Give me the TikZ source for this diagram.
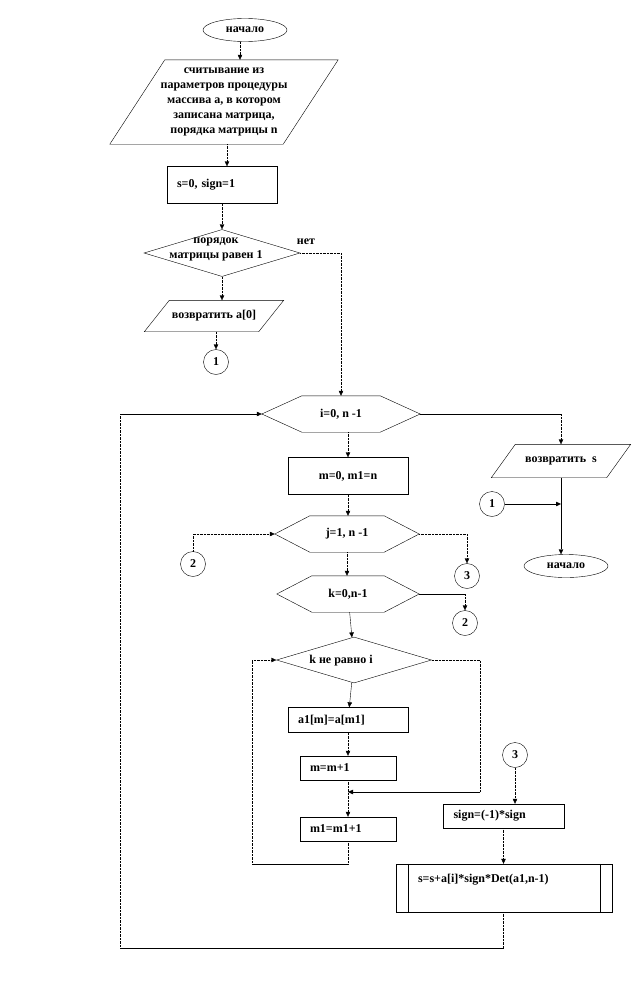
\documentclass[tikz,border=0pt]{standalone}
\usepackage{fontspec}
\setmainfont{Liberation Serif}
\usetikzlibrary{shapes.geometric, arrows.meta, positioning}

\begin{document}
\begin{tikzpicture}[
          x=1pt, y=-1pt,
          font=\bfseries\fontsize{12}{15}\selectfont,
          term/.style={ellipse, draw, minimum width=84pt, minimum height=23pt, inner sep=0pt},
          io/.style={rectangle, inner sep=0pt, align=center},
          proc/.style={rectangle, draw, inner xsep=10pt, inner ysep=0pt, align=left},
          cond/.style={diamond, draw, inner sep=0pt},
          hexbox/.style={rectangle, inner sep=0pt, minimum height=36pt},
          conn/.style={circle, draw, minimum size=25pt, inner sep=0pt},
          arrow/.style={-{Triangle[length=5pt, width=4.5pt]}},
          dline/.style={densely dotted}
        ]
          \useasboundingbox (0,0) rectangle (636,996);

          % main column
          \node (start) [term] at (245,30) {начало};
          \node (read) [io, minimum width=228pt, minimum height=84pt] at (224,102) {считывание из\\параметров процедуры\\массива a, в котором\\записана матрица,\\ порядка матрицы n};
          \node (init) [proc, inner xsep=10pt, minimum width=110pt, minimum height=37pt, text width=90pt] at (222,185) {s=0, sign=1};
          \node (check) [cond, minimum width=156pt, minimum height=47pt] at (222,253) {};
          \node (checktxt) [align=center, inner sep=0pt] at (216,249) {порядок\\матрицы равен 1};
          \node (no) at (306,242) {нет};
          \node (ret0) [io, minimum width=139pt, minimum height=31pt] at (214,316) {возвратить a[0]};
          \node (c1) [conn] at (216,362) {1};

          % loops
          \node (h1) [hexbox, minimum width=158pt] at (341,414) {i=0, n -1};
          \node (zero) [proc, align=center, minimum width=120pt, minimum height=37pt] at (348,476) {m=0, m1=n};
          \node (h2) [hexbox, minimum width=144pt] at (347,534) {j=1, n -1};
          \node (h3) [hexbox, minimum width=142pt] at (348,594) {k=0,n-1};
          \node (c2) [conn] at (193,564) {2};
          \node (c3) [conn] at (467,576) {3};
          \node (c2b) [conn] at (465,623) {2};
          \node (kneq) [cond, minimum width=155pt, minimum height=46pt] at (354,660) {};
          \node (kneqtxt) [inner sep=0pt] at (341,661) {k не равно i};
          \node (copy) [proc, minimum width=120pt, minimum height=25pt, text width=100pt] at (348,720) {a1[m]=a[m1]};
          \node (incm) [proc, minimum width=96pt, minimum height=24pt, text width=76pt] at (348,768) {m=m+1};
          \node (incm1) [proc, minimum width=96pt, minimum height=24pt, text width=76pt] at (348,829) {m1=m1+1};
          \node (c3b) [conn] at (515,755) {3};
          \node (flip) [proc, minimum width=121pt, minimum height=24pt, text width=100pt] at (503.5,816) {sign=(-1)*sign};
          \node (acc) [proc, inner xsep=22pt, minimum width=216pt, minimum height=48pt, text width=172pt, text height=9pt, text depth=21pt] at (504,888) {s=s+a[i]*sign*Det(a1,n-1)};

          % exit
          \node (ret) [io, minimum width=139pt, minimum height=33pt] at (561,461) {возвратить \ s};
          \node (c1b) [conn] at (492,504) {1};
          \node (stop) [term] at (566,566) {начало};

          % parallelograms, hexagons and subroutine bars
          \foreach \p/\o in {read/55, ret0/25, ret/24}
            \draw (\p.south west) -- ([xshift=\o]\p.north west) -- (\p.north east) -- ([xshift=-\o]\p.south east) -- cycle;
          \foreach \h/\c in {h1/40, h2/35, h3/35}
            \draw (\h.west) -- ([xshift=\c]\h.north west) -- ([xshift=-\c]\h.north east) -- (\h.east) -- ([xshift=-\c]\h.south east) -- ([xshift=\c]\h.south west) -- cycle;
          \draw ([xshift=12]acc.north west) -- ([xshift=12]acc.south west);
          \draw ([xshift=-12]acc.north east) -- ([xshift=-12]acc.south east);

          \coordinate (kr) at (480,792);
          \coordinate (kl) at (252,864);
          \coordinate (ob) at (120,948);

          \draw [arrow, dline] ([xshift=-5]start.south) -- ([xshift=-5]start.south |- read.north);
          \draw [arrow, dline] ([xshift=3]read.south) -- ([xshift=3]read.south |- init.north);
          \draw [arrow, dline] (init) -- (check);
          \draw [arrow, dline] (check.east) -| (h1.north);
          \draw [arrow, dline] (check.south) -- (check.south |- ret0.north);
          \draw [arrow, dline] (ret0.south -| c1) -- (c1);

          \draw [arrow, dline] (h1.south -| zero) -- (zero);
          \draw [arrow, dline] (zero) -- (zero |- h2.north);
          \draw [arrow, dline] (h2) -- (h2 |- h3.north);
          \draw [arrow] (h3) -- (kneq);
          \draw [arrow] (kneq) -- (copy);
          \draw [arrow, dline] (copy) -- (incm);
          \draw [arrow, dline] (incm) -- (incm1);
          \draw [dline] (kneq.east) -| (kr);
          \draw [arrow] (kr) -- (kr -| incm.south);
          \draw [dline] (incm1) -- (incm1 |- kl);
          \draw (incm1 |- kl) -- (kl);
          \draw [arrow, dline] (kl) |- (kneq.west);

          \draw [arrow, dline] (c2) |- (h2.west);
          \draw [arrow, dline] (h2.east) -| (c3);
          \draw (h3.east) -- (h3.east -| c2b);
          \draw [arrow, dline] (h3.east -| c2b) -- (c2b);

          \draw [arrow, dline] (c3b) -- (c3b |- flip.north);
          \draw [arrow, dline] (flip) -- (flip |- acc.north);
          \draw [dline] (acc.south -| flip) -- (flip |- ob);
          \draw (flip |- ob) -- (ob);
          \draw [dline] (ob) -- (ob |- h1.west);
          \draw [arrow] (ob |- h1.west) -- (h1.west);

          \draw (h1.east) -- (h1.east -| ret.north);
          \draw [arrow, dline] (h1.east -| ret.north) -- (ret.north);
          \draw [arrow] (ret.south) -- (ret.south |- stop.north);
          \draw [arrow] (c1b) -- (c1b -| ret.south);
        \end{tikzpicture}
\end{document}
